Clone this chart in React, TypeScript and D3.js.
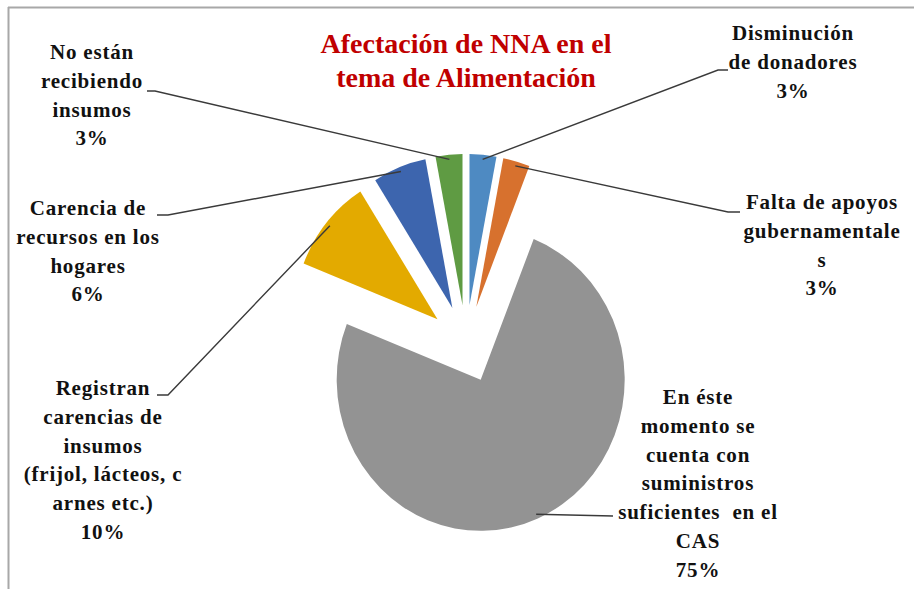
import * as d3 from 'd3';

// clockwise from 12 o'clock, as in the original sheet
const categories = [
  'Disminución de donadores',
  'Falta de apoyos gubernamentales',
  'En éste momento se cuenta con suministros suficientes  en el CAS',
  'Registran carencias de insumos (frijol, lácteos, carnes etc.)',
  'Carencia de recursos en los hogares',
  'No están recibiendo insumos',
];
const values = [3, 3, 75, 10, 6, 3];
// label text broken the way the chart wraps it
const labelLines = [
  ['Disminución', 'de donadores'],
  ['Falta de apoyos', 'gubernamentale', 's'],
  ['En éste', 'momento se', 'cuenta con', 'suministros', 'suficientes  en el', 'CAS'],
  ['Registran', 'carencias de', 'insumos', '(frijol, lácteos, c', 'arnes etc.)'],
  ['Carencia de', 'recursos en los', 'hogares'],
  ['No están', 'recibiendo', 'insumos'],
];
const colors = ['#4e8ac2', '#d7712e', '#939393', '#e3aa00', '#3d65ae', '#5f9b43'];
const titleLines = ['Afectación de NNA en el', 'tema de Alimentación'];

// where the data labels were dragged to, and their leader elbows
const labelLayout = [
  { cx: 793, y0: 33, elbow: [718, 70], end: [728, 70] },
  { cx: 822, y0: 202, elbow: [728, 212], end: [740, 212] },
  { cx: 698, y0: 397, elbow: [613, 516], end: [613, 516] },
  { cx: 103, y0: 388, elbow: [168, 395], end: [157, 395] },
  { cx: 88, y0: 208, elbow: [168, 215], end: [157, 215] },
  { cx: 92, y0: 52, elbow: [155, 91], end: [147, 91] },
];

const W = 914;
const H = 589;
const cx = 466;
const cy = 344;
const sy = 1.05;
const r = 144;
const explode = 37;
const lineH = 28.8;

export default function App() {
  const pie = d3.pie<number>().sort(null).value((d) => d);
  const arcs = pie(values);
  const arc = d3.arc<d3.PieArcDatum<number>>().innerRadius(0).outerRadius(r);

  const offset = (a: d3.PieArcDatum<number>) => {
    const m = (a.startAngle + a.endAngle) / 2;
    return [Math.sin(m) * explode, -Math.cos(m) * explode];
  };
  // point on the rim where the leader line touches, in page coords
  const rim = (a: d3.PieArcDatum<number>) => {
    const m = (a.startAngle + a.endAngle) / 2;
    const [ox, oy] = offset(a);
    const rr = r * 0.97;
    return [cx + ox + Math.sin(m) * rr, cy + (oy - Math.cos(m) * rr) * sy];
  };

  const font = 'Liberation Serif, DejaVu Serif, Times New Roman, serif';

  return (
    <svg width={W} height={H} style={{ position: 'absolute', left: 0, top: 0, background: '#fff' }}>
      <line x1={8} y1={7.5} x2={W} y2={7.5} stroke="#a8a8a8" strokeWidth={2} />
      <line x1={8.5} y1={7} x2={8.5} y2={H} stroke="#a8a8a8" strokeWidth={2} />

      <g transform={`translate(${cx},${cy}) scale(1,${sy})`}>
        {arcs.map((a, i) => {
          const [ox, oy] = offset(a);
          return (
            <path key={i} d={arc(a) || ''} transform={`translate(${ox},${oy})`} fill={colors[i]} />
          );
        })}
      </g>

      {arcs.map((a, i) => {
        const p = rim(a);
        const L = labelLayout[i];
        const pts = [p, L.elbow, L.end];
        return (
          <polyline
            key={'l' + i}
            points={pts.map((q) => q.join(',')).join(' ')}
            fill="none"
            stroke="#3a3a3a"
            strokeWidth={1.4}
          />
        );
      })}

      {arcs.map((a, i) => {
        const L = labelLayout[i];
        const lines = [...labelLines[i], d3.format('.0f')(a.data) + '%'];
        return (
          <text
            key={'t' + i}
            fontFamily={font}
            fontWeight="bold"
            fontSize={21}
            fill="#111"
            textAnchor="middle"
            style={{ letterSpacing: '0.8px', fontFamily: font }}
          >
            {lines.map((s, j) => (
              <tspan key={j} x={L.cx} y={L.y0 + j * lineH} dominantBaseline="central" style={{ whiteSpace: 'pre' }}>
                {s}
              </tspan>
            ))}
          </text>
        );
      })}

      <text fontFamily={font} fontWeight="bold" fontSize={28} fill="#c00000" textAnchor="middle" style={{ fontFamily: font }}>
        {titleLines.map((s, j) => (
          <tspan key={j} x={cx} y={53 + j * 34}>
            {s}
          </tspan>
        ))}
      </text>
    </svg>
  );
}
